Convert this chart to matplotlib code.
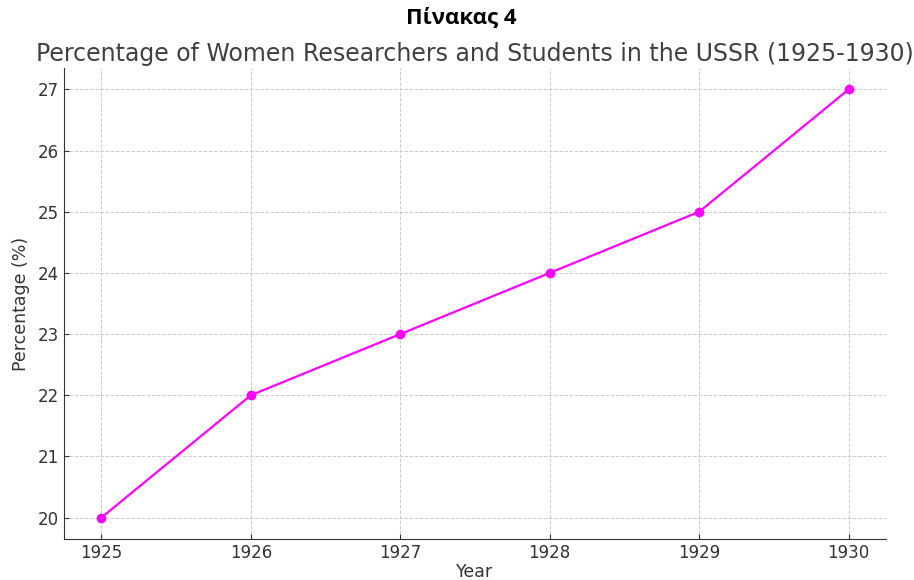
import matplotlib
matplotlib.use("Agg")
import matplotlib.pyplot as plt

plt.rcParams["font.family"] = ["DejaVu Sans"]

years = [1925, 1926, 1927, 1928, 1929, 1930]
percent = [20, 22, 23, 24, 25, 27]

fig = plt.figure(figsize=(9.14, 5.8), dpi=100)
ax = fig.add_axes([64/914, 1-539/580, (886-64)/914, (539-68)/580])

ax.plot(years, percent, color="#ff00ff", marker="o", markersize=6, lw=1.6)
ax.grid(True, ls="--", color="#cccccc", lw=0.7)
ax.set_axisbelow(True)
ax.spines["top"].set_visible(False)
ax.spines["right"].set_visible(False)
for s in ("left", "bottom"):
    ax.spines[s].set_color("#333333")
ax.tick_params(direction="in", labelsize=12, colors="#333333")
ax.set_xticks(years)
ax.set_xlabel("Year", fontsize=12.5, color="#333333", labelpad=1)
ax.set_ylabel("Percentage (%)", fontsize=12.5, color="#333333", labelpad=6)
ax.set_title("Percentage of Women Researchers and Students in the USSR (1925-1930)",
             fontsize=17, color="#404040", pad=5)
fig.text(0.505, 1-18/580, "Πίνακας 4", ha="center", va="center",
         fontsize=16, fontweight="bold", family=["Open Sans", "DejaVu Sans"])

fig.savefig("out.png", dpi=100)
